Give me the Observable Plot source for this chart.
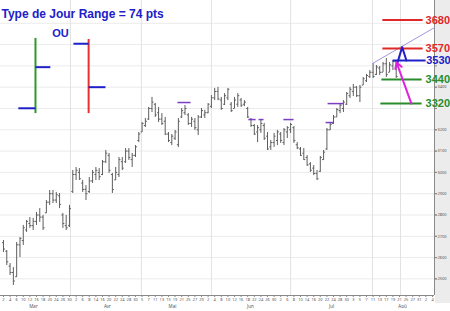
<!DOCTYPE html>
<html><head><meta charset="utf-8">
<script src="https://cdn.jsdelivr.net/npm/d3@7"></script>
<script src="https://cdn.jsdelivr.net/npm/@observablehq/plot@0.6"></script>
<style>
html,body{margin:0;padding:0;background:#fff;}
#wrap{position:relative;width:450px;height:311px;}
#strip{position:absolute;left:435px;top:0;width:15px;height:303px;background:#ececec;}
#chart{position:absolute;left:0;top:0;}
#chart svg{display:block;}
</style></head><body>
<div id="wrap"><div id="strip"></div><div id="chart"></div></div>
<script>
// ---- OHLC data (bar index order) ----
const highs = [2680,2633,2572,2553,2671,2694,2751,2774,2788,2784,
2812,2830,2798,2868,2915,2915,2906,2901,2807,2798,
2845,3009,3023,3018,2962,2938,2976,3009,3023,3018,
3056,3103,3089,2995,3023,3070,3070,3112,3112,3089,
3126,3187,3234,3253,3305,3352,3323,3305,3276,3258,
3187,3178,3197,3253,3300,3314,3276,3258,3253,3267,
3300,3291,3323,3361,3394,3399,3352,3370,3394,3328,
3352,3370,3347,3337,3305,3253,3225,3220,3244,3230,
3187,3150,3183,3197,3187,3206,3215,3230,3215,3140,
3117,3112,3079,3046,3032,3009,3075,3103,3206,3234,
3267,3300,3323,3337,3375,3399,3413,3403,3408,3445,
3460,3478,3511,3502,3497,3516,3535,3516,3525,3525];
const lows = [2624,2563,2516,2469,2507,2600,2657,2718,2737,2727,
2751,2765,2727,2807,2845,2854,2854,2830,2737,2727,
2741,2901,2962,2962,2906,2868,2901,2948,2962,2962,
2985,3042,2995,2901,2962,2976,3009,3042,3056,3023,
3070,3140,3187,3211,3244,3281,3258,3234,3220,3173,
3140,3126,3150,3117,3253,3267,3220,3211,3197,3173,
3253,3253,3276,3300,3337,3337,3291,3314,3337,3281,
3300,3305,3305,3309,3253,3211,3173,3140,3183,3150,
3103,3103,3117,3126,3136,3126,3159,3183,3136,3107,
3075,3056,3028,3000,2985,2962,3000,3056,3103,3197,
3225,3258,3276,3281,3314,3347,3356,3352,3328,3408,
3422,3441,3441,3455,3455,3469,3445,3469,3478,3441];
const opens = [2670,2630,2560,2530,2510,2660,2680,2730,2760,2750,
2770,2800,2790,2810,2860,2900,2870,2890,2800,2750,
2750,2910,2990,3000,2950,2920,2910,2960,2990,3000,
2990,3050,3080,2990,2965,2990,3050,3050,3100,3060,
3080,3150,3190,3220,3250,3300,3320,3280,3250,3240,
3180,3140,3160,3130,3260,3280,3270,3230,3240,3200,
3260,3270,3280,3310,3350,3380,3340,3320,3350,3320,
3300,3320,3340,3320,3300,3250,3220,3190,3200,3220,
3170,3120,3140,3150,3180,3140,3190,3200,3210,3130,
3110,3090,3070,3040,3020,2995,3005,3060,3110,3200,
3230,3260,3290,3300,3320,3360,3380,3400,3360,3410,
3430,3450,3470,3460,3490,3470,3510,3470,3500,3520];
const closes = [2640,2580,2530,2490,2660,2690,2740,2770,2750,2770,
2800,2790,2740,2860,2900,2870,2895,2850,2760,2740,
2830,2990,3010,2970,2920,2900,2960,3000,3010,2980,
3050,3090,3010,2920,3000,3060,3020,3100,3070,3080,
3120,3180,3230,3240,3300,3330,3270,3250,3230,3180,
3150,3170,3190,3240,3290,3300,3230,3250,3210,3260,
3290,3280,3320,3350,3380,3345,3300,3360,3390,3290,
3340,3360,3315,3330,3260,3220,3180,3210,3230,3160,
3110,3140,3170,3190,3150,3200,3210,3225,3150,3115,
3080,3060,3035,3010,2995,2970,3070,3095,3200,3225,
3260,3295,3315,3330,3370,3390,3400,3360,3400,3440,
3455,3470,3450,3495,3470,3510,3460,3505,3520,3450];

// ---- axis ticks ----
const yGrid = [2500,2600,2700,2800,2900,3000,3100,3200,3300,3400,3500,3600,3700];
const yTickLabels = [2500,2600,2700,2800,2900,3000,3100,3200,3400];
const dayLabels = ["2","4","6","10","12","16","18","20","24","26","30",
"2","6","8","14","16","20","22","24","28","30",
"5","7","11","13","15","19","21","25","27","29",
"2","4","8","10","12","16","18","22","24","26","30",
"2","6","8","10","14","16","20","22","24","28","30",
"3","5","7","11","13","17","19","21","25","27","31","2","4"];
const monthLabels = ["Mar","Avr","Mai","Jun","Jul","Aoû"];
const monthLabelAt = [9.1,31.5,51.2,74.8,99.4,120.9];
const monthGridAt = [20.3,41.8,63,87,111.8,120.3];

// ---- annotations ----
const levelValues = [3715,3582,3525,3436,3323];
const levelLabels = ["3680","3570","3530","3440","3320"];
const levelFrom = [114.8,114.8,117.9,114.5,114.2];
const levelTo = [127,127,127.9,126.7,126.7];
const levelLabelAt = [127.9,127.9,128.1,127.9,127.9];
const levelColors = ["#e02828","#e02828","#2020c8","#2a8c2a","#2a8c2a"];

const resistFrom = [52.7,74.2,77.3,84.8,97.6,98.2];
const resistTo = [56.7,76.4,78.8,87.9,100,103];
const resistAt = [3328,3248,3248,3248,3234,3323];

const peakX = [119.3,120.8,122.1];
const peakY = [3511,3588,3525];
const trendX = [111.8,130.6];
const trendY = [3511,3680];
const moveFrom = {x:123.6,y:3323};
const moveTo = {x:119.1,y:3516};

// schematic bars (legend at top-left)
const schemX = [9.7,25.8];
const schemLow = [3276,3276];
const schemHigh = [3629,3624];
const schemColors = ["#2e9a2e","#e83030"];
const schemTickFrom = [9.7,4.5,21.2,25.8];
const schemTickTo = [14.2,9.7,25.8,30.9];
const schemTickAt = [3494,3301,3604,3400];

const title = "Type de Jour Range = 74 pts";
const orText = "OU";
const orAt = {x:17.3,y:3652};

const xDomain = [-0.9,130.6];
const yDomain = [2422,3807];

const bars = highs.map((h,i)=>({i, high:h, low:lows[i], open:opens[i], close:closes[i]}));
const levels = levelValues.map((v,k)=>({v, label:levelLabels[k], x1:levelFrom[k], x2:levelTo[k], lx:levelLabelAt[k], c:levelColors[k]}));
const resist = resistAt.map((v,k)=>({v, x1:resistFrom[k], x2:resistTo[k]}));
const peak = peakX.map((x,k)=>({x, y:peakY[k]}));
const trend = trendX.map((x,k)=>({x, y:trendY[k]}));
const schem = schemX.map((x,k)=>({x, lo:schemLow[k], hi:schemHigh[k], c:schemColors[k]}));
const schemTicks = schemTickAt.map((v,k)=>({v, x1:schemTickFrom[k], x2:schemTickTo[k]}));
const dayTicks = dayLabels.map((l,k)=>k*2);
const dayMap = new Map(dayTicks.map((t,k)=>[t, dayLabels[k]]));
const months = monthLabels.map((m,k)=>({m, x:monthLabelAt[k]}));

const FONT = "Liberation Sans, Arial, sans-serif";
const barColor = "#5e5e5e";
const blue = "#2020c8";

const chart = Plot.plot({
  width: 450, height: 311,
  marginLeft: 0, marginRight: 16, marginTop: 0, marginBottom: 16,
  style: {background: "transparent", overflow: "visible"},
  x: {domain: xDomain},
  y: {domain: yDomain},
  marks: [
    Plot.ruleY(yGrid, {stroke: "#ebebeb"}),
    Plot.ruleX(monthGridAt, {stroke: "#e2e2e2"}),
    Plot.ruleX([xDomain[1]], {stroke: "#8a8a8a"}),
    Plot.ruleY([yDomain[0]], {stroke: "#8a8a8a"}),
    Plot.axisY(yGrid, {anchor: "right", tickSize: 2, text: null, stroke: "#888", label: null}),
    Plot.axisY(yTickLabels, {anchor: "right", tickSize: 2, tickPadding: 1, fontSize: 4, fill: "#555", stroke: "#888", label: null, tickFormat: d => String(d)}),
    Plot.axisX(dayTicks, {anchor: "bottom", tickSize: 2, tickPadding: 1, fontSize: 4, fill: "#555", stroke: "#888", label: null, tickFormat: d => dayMap.get(d)}),
    Plot.text(months, {x: "x", text: "m", frameAnchor: "bottom", dy: 12, fontSize: 4.5, fill: "#555"}),
    // OHLC bars
    Plot.ruleX(bars, {x: "i", y1: "low", y2: "high", stroke: barColor, strokeWidth: 1}),
    Plot.link(bars, {x1: d => d.i - 0.45, x2: "i", y1: "open", y2: "open", stroke: barColor, strokeWidth: 1}),
    Plot.link(bars, {x1: "i", x2: d => d.i + 0.45, y1: "close", y2: "close", stroke: barColor, strokeWidth: 1}),
    // resistance markers
    Plot.link(resist, {x1: "x1", x2: "x2", y1: "v", y2: "v", stroke: "#7b3fc4", strokeWidth: 1.5}),
    // trend line
    Plot.line(trend, {x: "x", y: "y", stroke: "#a396dc", strokeWidth: 1}),
    // level lines
    Plot.link(levels, {x1: "x1", x2: "x2", y1: "v", y2: "v", stroke: "c", strokeWidth: 2}),
    Plot.text(levels, {x: "lx", y: "v", text: "label", fill: "c", fontSize: 11, fontWeight: "bold", textAnchor: "start", fontFamily: FONT}),
    // blue peak and magenta move
    Plot.line(peak, {x: "x", y: "y", stroke: blue, strokeWidth: 2}),
    Plot.arrow([0], {x1: () => moveFrom.x, y1: () => moveFrom.y, x2: () => moveTo.x, y2: () => moveTo.y, stroke: "#e020e0", strokeWidth: 2, headLength: 5}),
    // schematic bars
    Plot.ruleX(schem, {x: "x", y1: "lo", y2: "hi", stroke: "c", strokeWidth: 2}),
    Plot.link(schemTicks, {x1: "x1", x2: "x2", y1: "v", y2: "v", stroke: blue, strokeWidth: 2}),
    Plot.text([orText], {x: () => orAt.x, y: () => orAt.y, text: d => d, fill: blue, fontSize: 11, fontWeight: "bold", fontFamily: FONT}),
    // title
    Plot.text([title], {frameAnchor: "top-left", dx: 1, dy: 9, text: d => d, fill: blue, fontSize: 12, fontWeight: "bold", textAnchor: "start", fontFamily: FONT})
  ]
});
document.getElementById("chart").appendChild(chart);
</script>
</body></html>
